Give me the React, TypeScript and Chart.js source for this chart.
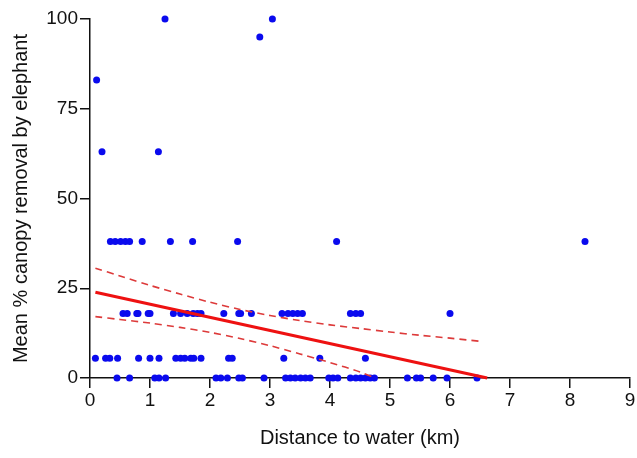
import React, { useEffect, useRef } from "react";
import { Chart, registerables } from "chart.js";

Chart.register(...registerables);

// Canopy-removal score classes (y values) and distances (km)
const distAt0 = [0.45, 0.66, 1.08, 1.15, 1.26, 2.1, 2.18, 2.29, 2.48, 2.54, 2.9, 3.26, 3.34, 3.42, 3.51, 3.59, 3.67, 3.98, 4.05, 4.13, 4.34, 4.43, 4.51, 4.59, 4.67, 4.74, 5.29, 5.44, 5.51, 5.72, 5.95, 6.45];
const distAt5 = [0.09, 0.26, 0.33, 0.46, 0.81, 1.0, 1.15, 1.43, 1.51, 1.58, 1.68, 1.73, 1.85, 2.31, 2.37, 3.23, 3.83, 4.59];
const distAt18 = [0.55, 0.62, 0.78, 0.8, 0.97, 1.0, 1.39, 1.51, 1.62, 1.72, 1.79, 1.85, 2.23, 2.48, 2.51, 2.69, 3.2, 3.3, 3.38, 3.46, 3.54, 4.34, 4.43, 4.51, 6.0];
const distAt38 = [0.34, 0.42, 0.51, 0.59, 0.66, 0.87, 1.34, 1.71, 2.46, 4.11, 8.25];
const distAt63 = [0.2, 1.14];
const distAt83 = [0.11];
const distAt95 = [2.83];
const distAt100 = [1.25, 3.04];
const levelValues = [0, 5.5, 18, 38, 63, 83, 95, 100];
const levelDistances = [distAt0, distAt5, distAt18, distAt38, distAt63, distAt83, distAt95, distAt100];

// Regression line and its confidence band
const fitX = [0.09, 6.62];
const fitY = [23.9, 0];
const bandX = [0.09, 0.5, 1, 1.5, 2, 2.5, 3, 3.5, 4, 4.5, 5, 5.5, 6, 6.55];
const upperY = [30.6, 28.4, 25.8, 23.4, 21.1, 19.1, 17.4, 16.0, 14.8, 13.8, 12.8, 11.9, 11.1, 10.15];
const lowerX = [0.09, 0.5, 1, 1.5, 2, 2.5, 3, 3.5, 4, 4.5, 4.75];
const lowerY = [17.1, 16.3, 15.3, 14.1, 12.7, 11.0, 9.0, 6.7, 4.3, 1.7, 0];

const xTicks = [0, 1, 2, 3, 4, 5, 6, 7, 8, 9];
const yTicks = [0, 25, 50, 75, 100];
const xTitle = "Distance to water (km)";
const yTitle = "Mean % canopy removal by elephant";

const FONT = "'Liberation Sans', Arial, Helvetica, sans-serif";

export default function App() {
  const ref = useRef<HTMLCanvasElement | null>(null);

  useEffect(() => {
    document.body.style.margin = "0";
    const canvas = ref.current;
    if (!canvas) return;

    const points: { x: number; y: number }[] = [];
    levelValues.forEach((v, i) => {
      levelDistances[i].forEach((d) => points.push({ x: d, y: v }));
    });
    const fitData = fitX.map((x, i) => ({ x, y: fitY[i] }));
    const upperData = bandX.map((x, i) => ({ x, y: upperY[i] }));
    const lowerData = lowerX.map((x, i) => ({ x, y: lowerY[i] }));

    const chart = new Chart(canvas, {
      type: "scatter",
      data: {
        datasets: [
          {
            data: fitData,
            showLine: true,
            borderColor: "#ee1111",
            borderWidth: 3,
            pointRadius: 0,
            clip: false,
          } as any,
          {
            data: upperData,
            showLine: true,
            borderColor: "#dd3a3a",
            borderWidth: 1.6,
            borderDash: [7, 5],
            pointRadius: 0,
            tension: 0.3,
            clip: false,
          } as any,
          {
            data: lowerData,
            showLine: true,
            borderColor: "#dd3a3a",
            borderWidth: 1.6,
            borderDash: [7, 5],
            pointRadius: 0,
            tension: 0.3,
            clip: false,
          } as any,
          {
            data: points,
            backgroundColor: "#0a0aee",
            borderColor: "#0a0aee",
            borderWidth: 0,
            pointRadius: 3.5,
            clip: false,
          } as any,
        ],
      },
      options: {
        responsive: false,
        animation: false,
        layout: { padding: { top: 19, right: 7, bottom: 0, left: 0 } },
        plugins: { legend: { display: false }, tooltip: { enabled: false } },
        scales: {
          x: {
            type: "linear",
            min: 0,
            max: 9,
            afterFit: (s: any) => {
              s.height = 80;
            },
            afterBuildTicks: (s: any) => {
              s.ticks = xTicks.map((v) => ({ value: v }));
            },
            ticks: { color: "#111", font: { family: FONT, size: 19 }, padding: 1, maxRotation: 0 },
            grid: { drawOnChartArea: false, drawTicks: true, tickLength: 10, color: "#111", lineWidth: 1.5 },
            border: { color: "#111", width: 1.5 },
            title: { display: true, text: xTitle, color: "#111", font: { family: FONT, size: 20 }, padding: { top: 8, bottom: 8 } },
          },
          y: {
            type: "linear",
            min: 0,
            max: 100,
            afterFit: (s: any) => {
              s.width = 90;
            },
            afterBuildTicks: (s: any) => {
              s.ticks = yTicks.map((v) => ({ value: v }));
            },
            ticks: { color: "#111", font: { family: FONT, size: 19 }, padding: 2 },
            grid: { drawOnChartArea: false, drawTicks: true, tickLength: 10, color: "#111", lineWidth: 1.5 },
            border: { color: "#111", width: 1.5 },
            title: { display: true, text: yTitle, color: "#111", font: { family: FONT, size: 20 }, padding: { top: 9, bottom: 9 } },
          },
        },
      },
    });
    return () => chart.destroy();
  }, []);

  return (
    <div style={{ width: 637, height: 458, background: "#fff" }}>
      <canvas ref={ref} width={637} height={458} style={{ display: "block" }} />
    </div>
  );
}
